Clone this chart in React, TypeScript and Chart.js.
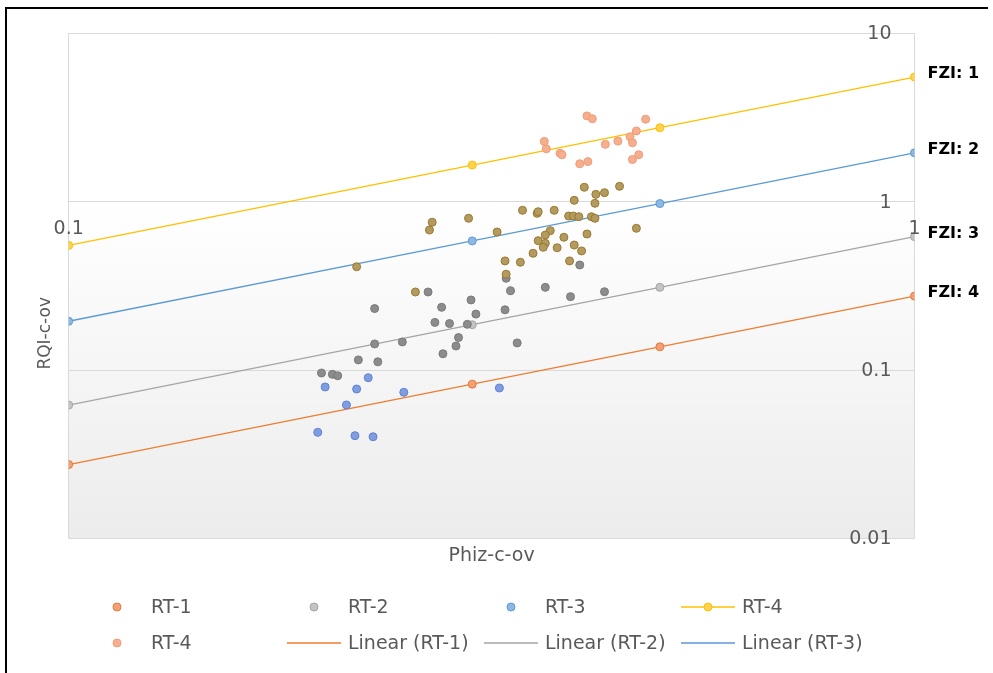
import React, { useEffect, useRef } from 'react';
import { Chart, registerables } from 'chart.js';

Chart.register(...registerables);

// FZI reference lines (markers at these porosity values)
const phizLine = [0.1, 0.3, 0.5, 1];
const rqiRT1 = [0.0275, 0.0825, 0.1375, 0.275];
const rqiRT2 = [0.062, 0.186, 0.31, 0.62];
const rqiRT3 = [0.195, 0.585, 0.975, 1.95];
const rqiRT4 = [0.55, 1.65, 2.75, 5.5];
const fziLabels = ['FZI: 1', 'FZI: 2', 'FZI: 3', 'FZI: 4'];

// RT-4 scatter (salmon)
const phizRT4pts = [0.410, 0.416, 0.481, 0.365, 0.367, 0.381, 0.383, 0.431, 0.446, 0.461, 0.469, 0.464, 0.472, 0.464, 0.402, 0.411];
const rqiRT4pts = [3.23, 3.11, 3.09, 2.28, 2.06, 1.94, 1.90, 2.19, 2.29, 2.43, 2.63, 2.24, 1.90, 1.78, 1.68, 1.73];

// olive/brown cluster
const phizBrown = [0.269, 0.267, 0.297, 0.321, 0.219, 0.257, 0.344, 0.358, 0.359, 0.375, 0.396, 0.419, 0.420, 0.430, 0.407, 0.448, 0.390, 0.395, 0.401, 0.415, 0.419, 0.469, 0.371, 0.366, 0.359, 0.366, 0.364, 0.385, 0.410, 0.396, 0.404, 0.378, 0.354, 0.328, 0.342, 0.391, 0.329];
const rqiBrown = [0.755, 0.679, 0.797, 0.661, 0.411, 0.291, 0.889, 0.853, 0.872, 0.889, 1.019, 0.978, 1.106, 1.131, 1.218, 1.234, 0.822, 0.822, 0.815, 0.815, 0.797, 0.695, 0.673, 0.634, 0.587, 0.566, 0.536, 0.615, 0.643, 0.553, 0.510, 0.533, 0.494, 0.445, 0.437, 0.445, 0.371];

// dark grey cluster
const phizGrey = [0.402, 0.329, 0.266, 0.333, 0.366, 0.392, 0.430, 0.299, 0.230, 0.276, 0.328, 0.303, 0.271, 0.282, 0.296, 0.289, 0.287, 0.277, 0.230, 0.248, 0.339, 0.220, 0.232, 0.199, 0.205, 0.208];
const rqiGrey = [0.421, 0.351, 0.291, 0.296, 0.310, 0.273, 0.292, 0.261, 0.232, 0.236, 0.228, 0.215, 0.192, 0.189, 0.187, 0.156, 0.139, 0.125, 0.143, 0.147, 0.145, 0.115, 0.112, 0.0961, 0.0944, 0.0926];

// blue cluster
const phizBlue = [0.226, 0.201, 0.219, 0.249, 0.323, 0.213, 0.197, 0.218, 0.229];
const rqiBlue = [0.0901, 0.0794, 0.0772, 0.0738, 0.0783, 0.0621, 0.0427, 0.0408, 0.0402];

const xTicks = [0.1, 1];
const xTickLabels = ['0.1', '1'];
const yTicks = [0.01, 0.1, 1, 10];
const yTickLabels = ['0.01', '0.1', '1', '10'];
const xTitle = 'Phiz-c-ov';
const yTitle = 'RQI-c-ov';

const pts = (xs: number[], ys: number[]) => xs.map((x, i) => ({ x, y: ys[i] }));

const TEXT = '#595959';
const FONT = '"DejaVu Sans", sans-serif';

const bgPlugin = {
  id: 'bgGradient',
  beforeDraw(chart: any) {
    const { ctx, chartArea: a } = chart;
    const g = ctx.createLinearGradient(0, a.top, 0, a.bottom);
    g.addColorStop(0, '#ffffff');
    g.addColorStop(0.33, '#ffffff');
    g.addColorStop(1, '#ececec');
    ctx.save();
    ctx.fillStyle = g;
    ctx.fillRect(a.left, a.top, a.right - a.left, a.bottom - a.top);
    ctx.restore();
  },
};

const overlayPlugin = {
  id: 'overlay',
  afterDraw(chart: any) {
    const { ctx, chartArea: a } = chart;
    const xs = chart.scales.x;
    const ys = chart.scales.y;
    ctx.save();
    // tick labels
    ctx.fillStyle = TEXT;
    ctx.font = `19px ${FONT}`;
    ctx.textAlign = 'right';
    ctx.textBaseline = 'middle';
    const xr = xs.getPixelForValue(1);
    yTicks.forEach((v, i) => ctx.fillText(yTickLabels[i], xr - 23, ys.getPixelForValue(v) + 1));
    ctx.textAlign = 'center';
    const y1 = ys.getPixelForValue(1);
    xTicks.forEach((v, i) => ctx.fillText(xTickLabels[i], xs.getPixelForValue(v), y1 + 27));
    // axis titles
    ctx.fillText(xTitle, (a.left + a.right) / 2, a.bottom + 18);
    ctx.save();
    ctx.translate(46, a.top + 300);
    ctx.rotate(-Math.PI / 2);
    ctx.font = `17px ${FONT}`;
    ctx.fillText(yTitle, 0, 0);
    ctx.restore();
    // FZI labels
    ctx.font = `bold 16px ${FONT}`;
    ctx.fillStyle = '#000000';
    ctx.textAlign = 'left';
    chart.data.datasets.forEach((ds: any, di: number) => {
      if (ds.fzi === undefined) return;
      const meta = chart.getDatasetMeta(di);
      const p = meta.data[meta.data.length - 1];
      ctx.fillText(fziLabels[ds.fzi], p.x + 13, p.y - 3);
    });
    // legend
    ctx.font = `19px ${FONT}`;
    ctx.fillStyle = TEXT;
    const items = chart.data.datasets.filter((d: any) => d.legendKind);
    items.forEach((d: any, i: number) => {
      const row = Math.floor(i / 4);
      const col = i % 4;
      const cx = 117 + 197 * col;
      const cy = 607 + 36 * row;
      if (d.legendKind === 'line' || d.legendKind === 'linepoint') {
        ctx.strokeStyle = d.borderColor;
        ctx.lineWidth = 1.3;
        ctx.beginPath();
        ctx.moveTo(cx - 27, cy);
        ctx.lineTo(cx + 27, cy);
        ctx.stroke();
      }
      if (d.legendKind === 'point' || d.legendKind === 'linepoint') {
        ctx.beginPath();
        ctx.arc(cx, cy, 4, 0, Math.PI * 2);
        ctx.fillStyle = d.pointBackgroundColor;
        ctx.fill();
        ctx.strokeStyle = d.pointBorderColor;
        ctx.lineWidth = 1;
        ctx.stroke();
      }
      ctx.fillStyle = TEXT;
      ctx.textAlign = 'left';
      ctx.textBaseline = 'middle';
      ctx.fillText(d.label, cx + 34, cy + 1);
    });
    // outer frame
    ctx.fillStyle = '#000000';
    ctx.fillRect(5, 7, 2, 666);
    ctx.fillRect(5, 7, 983, 2);
    ctx.restore();
  },
};

const markerSet = (fill: string, border: string) => ({
  pointBackgroundColor: fill,
  pointBorderColor: border,
  backgroundColor: fill,
  borderColor: border,
  pointRadius: 4,
  pointBorderWidth: 1,
  showLine: false,
});

export default function App() {
  const ref = useRef<HTMLCanvasElement>(null);
  useEffect(() => {
    if (!ref.current) return;
    const datasets: any[] = [
      { label: 'RT-1', data: pts(phizLine, rqiRT1), ...markerSet('#F3A077', '#E97A35'), legendKind: 'point', order: 3 },
      { label: 'RT-2', data: pts(phizLine, rqiRT2), ...markerSet('#C4C4C4', '#A5A5A5'), legendKind: 'point', order: 3, fzi: 2 },
      { label: 'RT-3', data: pts(phizLine, rqiRT3), ...markerSet('#8FB7E4', '#5B9BD5'), legendKind: 'point', order: 3, fzi: 1 },
      {
        label: 'RT-4', data: pts(phizLine, rqiRT4), showLine: true, borderColor: '#FFC000', borderWidth: 1.3,
        pointBackgroundColor: '#FFD24F', pointBorderColor: '#FFC000', pointRadius: 4, pointBorderWidth: 1,
        legendKind: 'linepoint', order: 3, fzi: 0,
      },
      { label: 'RT-4', data: pts(phizRT4pts, rqiRT4pts), ...markerSet('#F5AE8E', '#F19C78'), legendKind: 'point', order: 1 },
      { label: 'Linear (RT-1)', data: pts(phizLine, rqiRT1), showLine: true, borderColor: '#ED7D31', borderWidth: 1.3, pointRadius: 0, legendKind: 'line', order: 5, fzi: 3 },
      { label: 'Linear (RT-2)', data: pts(phizLine, rqiRT2), showLine: true, borderColor: '#A5A5A5', borderWidth: 1.3, pointRadius: 0, legendKind: 'line', order: 5 },
      { label: 'Linear (RT-3)', data: pts(phizLine, rqiRT3), showLine: true, borderColor: '#5B9BD5', borderWidth: 1.3, pointRadius: 0, legendKind: 'line', order: 5 },
      { label: 'Cluster olive', data: pts(phizBrown, rqiBrown), ...markerSet('#B39A60', '#9A7A2B'), order: 1 },
      { label: 'Cluster grey', data: pts(phizGrey, rqiGrey), ...markerSet('#8C8C8C', '#7A7A7A'), order: 1 },
      { label: 'Cluster blue', data: pts(phizBlue, rqiBlue), ...markerSet('#7F9DE0', '#5E82D4'), order: 1 },
    ];
    const chart = new Chart(ref.current, {
      type: 'scatter',
      data: { datasets },
      options: {
        animation: false,
        responsive: false,
        layout: { padding: { left: 68.7, top: 33.3, right: 78.5, bottom: 134.5 } },
        plugins: { legend: { display: false }, tooltip: { enabled: false } },
        scales: {
          x: {
            type: 'logarithmic', min: 0.1, max: 1, position: { y: 1 } as any,
            afterBuildTicks: (s: any) => { s.ticks = xTicks.map((v) => ({ value: v })); },
            ticks: { display: false },
            grid: { color: '#D9D9D9', drawTicks: false, lineWidth: 1 },
            border: { display: false },
          },
          y: {
            type: 'logarithmic', min: 0.01, max: 10, position: { x: 1 } as any,
            afterBuildTicks: (s: any) => { s.ticks = yTicks.map((v) => ({ value: v })); },
            ticks: { display: false },
            grid: { color: '#D9D9D9', drawTicks: false, lineWidth: 1 },
            border: { display: false },
          },
        },
      } as any,
      plugins: [bgPlugin, overlayPlugin],
    });
    return () => chart.destroy();
  }, []);
  return (
    <div style={{ position: 'absolute', left: 0, top: 0, width: 993, height: 673, background: '#fff' }}>
      <canvas ref={ref} width={993} height={673} style={{ display: 'block' }} />
    </div>
  );
}
